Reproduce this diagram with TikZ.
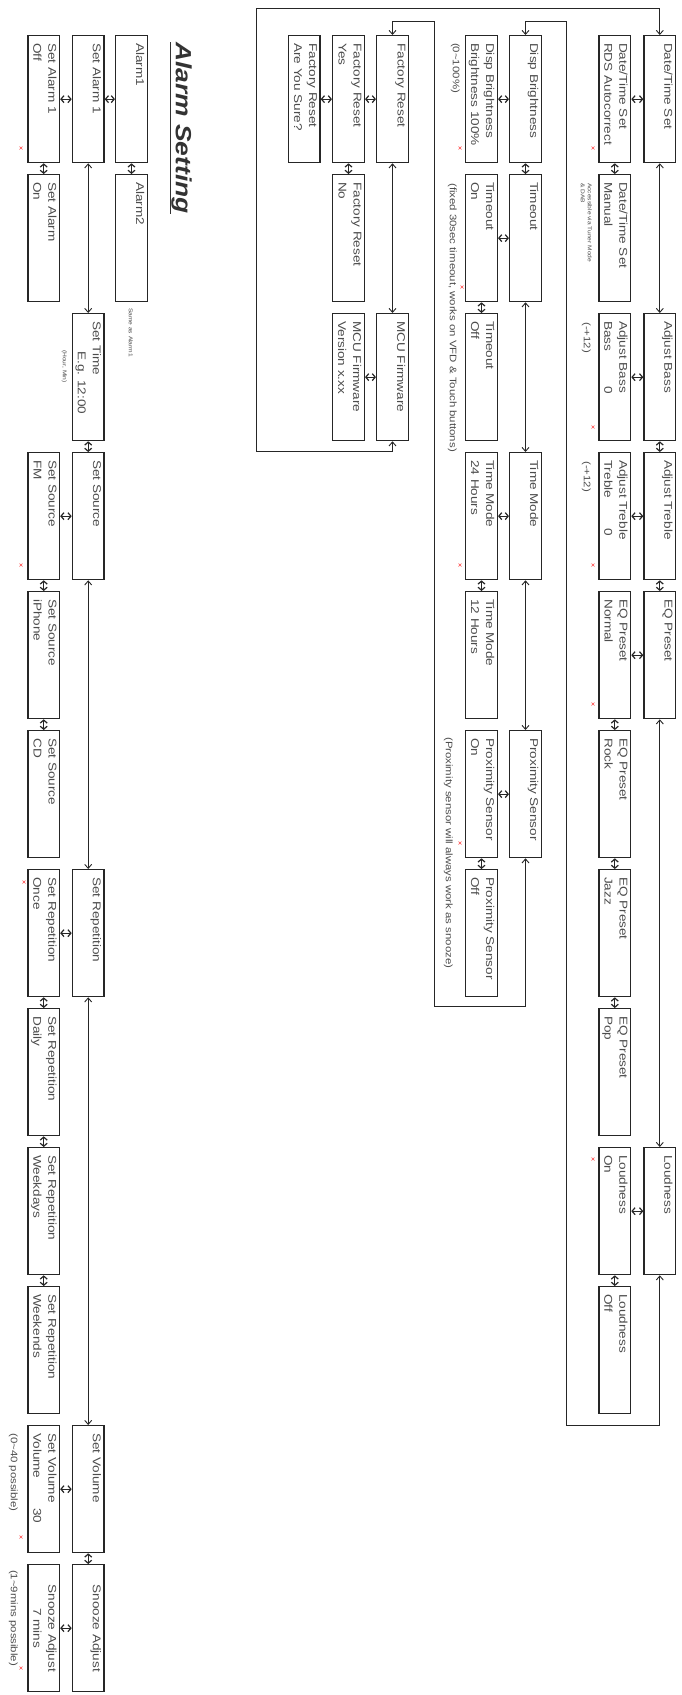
\documentclass[tikz,border=0pt]{standalone}
\usepackage{fontspec}
\setmainfont{Liberation Sans}[FakeStretch=1.2]
\usetikzlibrary{arrows.meta}
\newcommand{\bx}[4]{\node[box] (#1) at (#2,#3) {};
  \node[lbl] at ([xshift=-3.5pt,yshift=-8pt]#1.north east) {#4};}
\newcommand{\bxc}[4]{\node[box] (#1) at (#2,#3) {};
  \node[lblc] at ([xshift=-3.5pt]#1.east) {#4};}
\newcommand{\rmk}[2]{\draw[redmk] (#1-1.5,#2-1.5) -- (#1+1.5,#2+1.5) (#1-1.5,#2+1.5) -- (#1+1.5,#2-1.5);}
\begin{document}
\begin{tikzpicture}[x=1pt,y=-1pt,
  box/.style={draw=black!85, line width=1.3pt, minimum width=31.7pt, minimum height=127pt, inner sep=0pt, anchor=north west},
  lbl/.style={rotate=-90, anchor=north west, align=left, inner sep=0pt, text=black!70, font=\fontsize{11.3}{15}\selectfont},
  lblc/.style={rotate=-90, anchor=north, align=center, inner sep=0pt, text=black!70, font=\fontsize{11.3}{15}\selectfont},
  note/.style={rotate=-90, anchor=north west, align=left, inner sep=0pt, text=black!70, font=\fontsize{9.5}{11}\selectfont},
  snote/.style={rotate=-90, anchor=north west, align=left, inner sep=0pt, text=black!70, font=\fontsize{5.5}{7}\selectfont},
  lnk/.style={draw=black!85, line width=0.9pt, {Straight Barb[length=4pt,width=7pt]}-{Straight Barb[length=4pt,width=7pt]}},
  sh/.style={draw=black!85, line width=1.2pt, {Straight Barb[length=3pt,width=7pt]}-{Straight Barb[length=3pt,width=7pt]}},
  redmk/.style={draw=red!70, line width=0.6pt}]
\useasboundingbox[fill=white] (0,0) rectangle (681,1695);

% ---------- title ----------
\node[rotate=-90, anchor=north west, inner sep=0pt, text=black!80,
  font=\fontsize{22}{26}\selectfont\bfseries\itshape] (title) at (192,42) {\underline{Alarm Setting}};

% ---------- column 1 ----------
\bx{dts}{643.3}{35}{Date/Time Set}
\bx{bass}{643.3}{313}{Adjust Bass}
\bx{treb}{643.3}{452}{Adjust Treble}
\bx{eq}{643.3}{591}{EQ Preset}
\bx{loud}{643.3}{1147}{Loudness}
% ---------- column 2 ----------
\bx{rds}{598.3}{35}{Date/Time Set\\RDS Autocorrect}
\bx{man}{598.3}{174}{Date/Time Set\\Manual}
\bx{bassv}{598.3}{313}{Adjust Bass\\\makebox[65pt][l]{Bass}0}
\bx{trebv}{598.3}{452}{Adjust Treble\\\makebox[68pt][l]{Treble}0}
\bx{eqn}{598.3}{591}{EQ Preset\\Normal}
\bx{eqr}{598.3}{730}{EQ Preset\\Rock}
\bx{eqj}{598.3}{869}{EQ Preset\\Jazz}
\bx{eqp}{598.3}{1008}{EQ Preset\\Pop}
\bx{lon}{598.3}{1147}{Loudness\\On}
\bx{loff}{598.3}{1286}{Loudness\\Off}
% ---------- column 3 ----------
\bx{disp}{509}{35}{Disp Brightness}
\bx{tout}{509}{174}{Timeout}
\bx{tmode}{509}{452}{Time Mode}
\bx{prox}{509}{730}{Proximity Sensor}
% ---------- column 4 ----------
\bx{dispv}{465}{35}{Disp Brightness\\Brightness 100\%}
\bx{ton}{465}{174}{Timeout\\On}
\bx{toff}{465}{313}{Timeout\\Off}
\bx{h24}{465}{452}{Time Mode\\24 Hours}
\bx{h12}{465}{591}{Time Mode\\12 Hours}
\bx{pon}{465}{730}{Proximity Sensor\\On}
\bx{poff}{465}{869}{Proximity Sensor\\Off}
% ---------- columns 5-7 ----------
\bx{fr}{376}{35}{Factory Reset}
\bx{mcu}{376}{313}{MCU Firmware}
\bx{fry}{332}{35}{Factory Reset\\Yes}
\bx{frn}{332}{174}{Factory Reset\\No}
\bx{mcuv}{332}{313}{MCU Firmware\\Version x.xx}
\bx{frs}{287.7}{35}{Factory Reset\\Are You Sure?}
% ---------- alarm columns ----------
\bx{al1}{115}{35}{Alarm1}
\bx{al2}{115}{174}{Alarm2}
\bx{sal}{71.7}{35}{Set Alarm 1}
\bx{stime}{71.7}{313}{Set Time\\\hspace*{30pt}E.g. 12:00}
\bx{ssrc}{71.7}{452}{Set Source}
\bx{srep}{71.7}{869}{Set Repetition}
\bx{svol}{71.7}{1425}{Set Volume}
\bxc{snz}{71.7}{1564}{Snooze Adjust}
\bx{aoff}{27.2}{35}{Set Alarm 1\\Off}
\bx{aon}{27.2}{174}{Set Alarm\\On}
\bx{fm}{27.2}{452}{Set Source\\FM}
\bx{iph}{27.2}{591}{Set Source\\iPhone}
\bx{cd}{27.2}{730}{Set Source\\CD}
\bx{once}{27.2}{869}{Set Repetition\\Once}
\bx{daily}{27.2}{1008}{Set Repetition\\Daily}
\bx{wkd}{27.2}{1147}{Set Repetition\\Weekdays}
\bx{wke}{27.2}{1286}{Set Repetition\\Weekends}
\bx{vol}{27.2}{1425}{Set Volume\\\makebox[75pt][l]{Volume}30}
\bxc{snzv}{27.2}{1564}{Snooze Adjust\\7 mins}

% ---------- notes ----------
\node[snote] (nman) at (592,183) {Accessible via Tuner Mode\\\& DAB};
\node[note] (nbass) at (591,322) {(-+12)};
\node[note] (ntreb) at (591,461) {(-+12)};
\node[note] (ndisp) at (460,43) {(0\textasciitilde100\%)};
\node[note] (ntout) at (457,183) {(fixed 30sec timeout, works on VFD \& Touch buttons)};
\node[note] (nprox) at (453,737) {(Proximity sensor will always work as snooze)};
\node[snote] (nal2) at (133,308) {Same as Alarm1};
\node[snote] (ntime) at (67,350) {(Hour, Min)};
\node[note] (nvol) at (18,1433) {(0\textasciitilde40 possible)};
\node[note, anchor=north] (nsnz) at (18,1618) {(1\textasciitilde9mins possible)};

% ---------- red default marks ----------
\rmk{593}{148}\rmk{460}{148}\rmk{462}{287}\rmk{21}{148}
\rmk{593}{427}\rmk{593}{565}\rmk{460}{565}\rmk{21}{565}
\rmk{593}{704}\rmk{460}{843}\rmk{24}{882}\rmk{593}{1159}
\rmk{21}{1537}\rmk{21}{1668}

% ---------- loop connectors ----------
\coordinate (c1) at (256.2,451.7);
\coordinate (c2) at (256.2,8.3);
\coordinate (c3) at (434.3,21.7);
\coordinate (c4) at (434.3,1006.7);
\coordinate (c5) at (566.8,21.7);
\coordinate (c6) at (566.8,1425);
\draw[lnk] (mcu.south) |- (c1) -- (c2) -| (dts.north);
\draw[lnk] (fr.north) |- (c3) -- (c4) -| (prox.south);
\draw[lnk] (disp.north) |- (c5) -- (c6) -| (loud.south);

% ---------- long vertical connectors ----------
\draw[lnk] (dts.south) -- (bass.north);
\draw[lnk] (eq.south) -- (loud.north);
\draw[lnk] (tout.south) -- (tmode.north);
\draw[lnk] (tmode.south) -- (prox.north);
\draw[lnk] (fr.south) -- (mcu.north);
\draw[lnk] (sal.south) -- (stime.north);
\draw[lnk] (ssrc.south) -- (srep.north);
\draw[lnk] (srep.south) -- (svol.north);

% ---------- short vertical connectors ----------
\draw[sh] (bass.south) -- (treb.north);
\draw[sh] (treb.south) -- (eq.north);
\draw[sh] (rds.south) -- (man.north);
\draw[sh] (eqn.south) -- (eqr.north);
\draw[sh] (eqr.south) -- (eqj.north);
\draw[sh] (eqj.south) -- (eqp.north);
\draw[sh] (lon.south) -- (loff.north);
\draw[sh] (disp.south) -- (tout.north);
\draw[sh] (ton.south) -- (toff.north);
\draw[sh] (h24.south) -- (h12.north);
\draw[sh] (pon.south) -- (poff.north);
\draw[sh] (fry.south) -- (frn.north);
\draw[sh] (al1.south) -- (al2.north);
\draw[sh] (stime.south) -- (ssrc.north);
\draw[sh] (svol.south) -- (snz.north);
\draw[sh] (aoff.south) -- (aon.north);
\draw[sh] (fm.south) -- (iph.north);
\draw[sh] (iph.south) -- (cd.north);
\draw[sh] (once.south) -- (daily.north);
\draw[sh] (daily.south) -- (wkd.north);
\draw[sh] (wkd.south) -- (wke.north);

% ---------- short horizontal connectors ----------
\draw[sh] (dts.west) -- (rds.east);
\draw[sh] (bass.west) -- (bassv.east);
\draw[sh] (treb.west) -- (trebv.east);
\draw[sh] (eq.west) -- (eqn.east);
\draw[sh] (loud.west) -- (lon.east);
\draw[sh] (disp.west) -- (dispv.east);
\draw[sh] (tout.west) -- (ton.east);
\draw[sh] (tmode.west) -- (h24.east);
\draw[sh] (prox.west) -- (pon.east);
\draw[sh] (fr.west) -- (fry.east);
\draw[sh] (fry.west) -- (frs.east);
\draw[sh] (mcu.west) -- (mcuv.east);
\draw[sh] (al1.west) -- (sal.east);
\draw[sh] (sal.west) -- (aoff.east);
\draw[sh] (ssrc.west) -- (fm.east);
\draw[sh] (srep.west) -- (once.east);
\draw[sh] (svol.west) -- (vol.east);
\draw[sh] (snz.west) -- (snzv.east);
\end{tikzpicture}
\end{document}
